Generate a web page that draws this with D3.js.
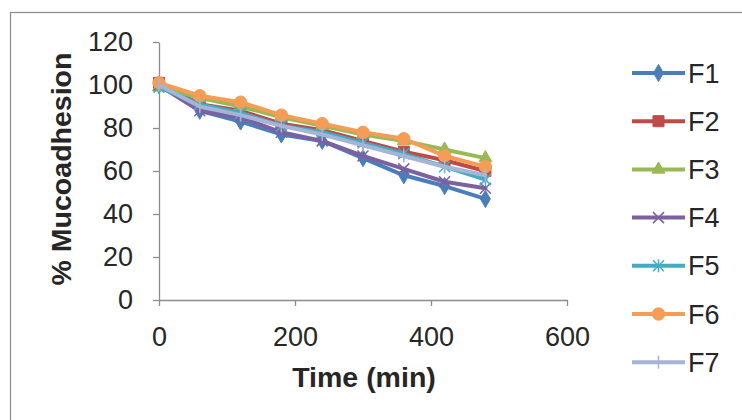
<!DOCTYPE html>
<html><head><meta charset="utf-8">
<script src="https://cdn.jsdelivr.net/npm/d3@7"></script>
<style>body{margin:0;background:#fff}svg{display:block}</style>
</head><body><svg id="c" width="742" height="420"></svg>
<script>
const times = [0, 60, 120, 180, 240, 300, 360, 420, 480];
const seriesNames = ["F1", "F2", "F3", "F4", "F5", "F6", "F7"];
const F1 = [100, 88, 83, 77, 74, 66, 58, 53, 47];
const F2 = [101, 91, 88, 82, 79, 74, 69, 65, 60];
const F3 = [99, 94, 90, 85, 81, 77, 74, 70, 66];
const F4 = [100, 88, 85, 78, 74, 67, 61, 55, 52];
const F5 = [99, 91, 87, 81, 78, 73, 68, 62, 56];
const F6 = [101, 95, 92, 86, 82, 78, 75, 67, 62];
const F7 = [100, 90, 86, 81, 77, 72, 67, 62, 58];
const xTicks = [0, 200, 400, 600];
const yTicks = [0, 20, 40, 60, 80, 100, 120];
const seriesValues = [F1, F2, F3, F4, F5, F6, F7];
const colors = ["#4A7EBB", "#BE4B48", "#98B954", "#7D60A0", "#46AAC5", "#F59D56", "#A5B5D6"];
const markers = ["diamond", "square", "triangle", "x", "asterisk", "circle", "plus"];

const svg = d3.select("#c");
svg.append("rect").attr("x", 10.5).attr("y", 12.5).attr("width", 800).attr("height", 500)
  .attr("fill", "#fff").attr("stroke", "#8a8a8a").attr("stroke-width", 1.2);

const x = d3.scaleLinear().domain([0, 600]).range([159, 567]);
const y = d3.scaleLinear().domain([0, 120]).range([300, 42]);
const font = "'Liberation Sans', Arial, sans-serif";

const gx = svg.append("g").attr("transform", `translate(0,${y(0)})`)
  .call(d3.axisBottom(x).tickValues(xTicks).tickSize(6).tickSizeOuter(0).tickPadding(21));
const gy = svg.append("g").attr("transform", `translate(${x(0)},0)`)
  .call(d3.axisLeft(y).tickValues(yTicks).tickSize(6).tickSizeOuter(0).tickPadding(20));
[gx, gy].forEach(g => {
  g.select(".domain").attr("stroke", "#8c8c8c").attr("stroke-width", 1.3);
  g.selectAll(".tick line").attr("stroke", "#8c8c8c").attr("stroke-width", 1.3);
  g.selectAll(".tick text").attr("font-family", font).attr("font-size", 27).attr("fill", "#262626");
});

svg.append("text").attr("x", 364).attr("y", 387).attr("text-anchor", "middle")
  .attr("font-family", font).attr("font-weight", "bold").attr("font-size", 28.5).attr("fill", "#262626")
  .text("Time (min)");
svg.append("text").attr("transform", `translate(71,${(y(0) + y(120)) / 2 - 2}) rotate(-90)`)
  .attr("text-anchor", "middle")
  .attr("font-family", font).attr("font-weight", "bold").attr("font-size", 28.5).attr("fill", "#262626")
  .text("% Mucoadhesion");

function drawMarker(g, type, cx, cy, color, s) {
  const sym = {diamond: d3.symbolDiamond, square: d3.symbolSquare, triangle: d3.symbolTriangle, circle: d3.symbolCircle};
  if (sym[type]) {
    const size = type === "diamond" ? s * s * 0.7 : type === "triangle" ? s * s * 0.6 : s * s;
    g.append("path").attr("d", d3.symbol(sym[type], size)()).attr("transform", `translate(${cx},${cy})`)
      .attr("fill", color).attr("stroke", color).attr("stroke-width", 1);
  } else {
    const r = s / 2;
    const segs = [];
    if (type === "x" || type === "asterisk") segs.push([-r, -r, r, r], [-r, r, r, -r]);
    if (type === "asterisk" || type === "plus") segs.push([0, -r - 1, 0, r + 1]);
    segs.forEach(sg => g.append("line").attr("x1", cx + sg[0]).attr("y1", cy + sg[1])
      .attr("x2", cx + sg[2]).attr("y2", cy + sg[3]).attr("stroke", color).attr("stroke-width", 1.5));
  }
}

const line = d3.line().x(d => x(d[0])).y(d => y(d[1]));
seriesValues.forEach((vals, i) => {
  const pts = times.map((t, j) => [t, vals[j]]);
  const g = svg.append("g");
  g.append("path").attr("d", line(pts)).attr("fill", "none").attr("stroke", colors[i])
    .attr("stroke-width", 4).attr("stroke-linejoin", "round").attr("stroke-linecap", "round");
  pts.forEach(p => drawMarker(g, markers[i], x(p[0]), y(p[1]), colors[i], 11));
});

const leg = svg.append("g");
seriesNames.forEach((name, i) => {
  const ly = 73 + i * 48.2;
  leg.append("line").attr("x1", 632).attr("x2", 685).attr("y1", ly).attr("y2", ly)
    .attr("stroke", colors[i]).attr("stroke-width", 4);
  drawMarker(leg, markers[i], 658.5, ly, colors[i], 11);
  leg.append("text").attr("x", 688).attr("y", ly + 9.5).attr("font-family", font).attr("font-size", 27)
    .attr("fill", "#262626").text(name);
});
</script></body></html>
